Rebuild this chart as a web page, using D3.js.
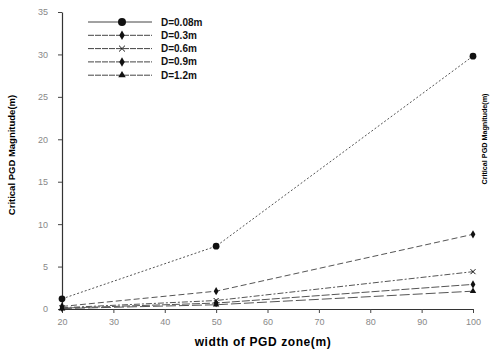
<!DOCTYPE html>
<html>
<head>
<meta charset="utf-8">
<script src="https://cdn.jsdelivr.net/npm/d3@7"></script>
<style>
  body { margin: 0; background: #fff; }
  svg { display: block; font-family: "Liberation Sans", Arial, sans-serif; }
</style>
</head>
<body>
<div id="chart"></div>
<script>
// data
var widths = [20, 50, 100];
var seriesNames = ["D=0.08m", "D=0.3m", "D=0.6m", "D=0.9m", "D=1.2m"];
var d008 = [1.2, 7.4, 29.8];
var d03 = [0.3, 2.1, 8.8];
var d06 = [0.15, 1.0, 4.4];
var d09 = [0.1, 0.7, 2.9];
var d12 = [0.05, 0.5, 2.1];
var xTicks = [20, 30, 40, 50, 60, 70, 80, 90, 100];
var yTicks = [0, 5, 10, 15, 20, 25, 30, 35];

var allValues = [d008, d03, d06, d09, d12];
var markers = [d3.symbolCircle, d3.symbolDiamond, d3.symbolX, d3.symbolDiamond, d3.symbolTriangle];
var markerSize = [36, 20, 18, 20, 18];
var dashes = ["2,2", "6,3", "6,2,2,2", "8,2", "10,3"];

// set the dimensions and margins of the graph
var margin = {top: 12, right: 24, bottom: 45, left: 62},
    width = 497 - margin.left - margin.right,
    height = 354 - margin.top - margin.bottom;

var x = d3.scaleLinear().domain([20, 100]).range([0, width]);
var y = d3.scaleLinear().domain([0, 35]).range([height, 0]);

var svg = d3.select("#chart").append("svg")
    .attr("width", 497)
    .attr("height", 354)
  .append("g")
    .attr("transform", "translate(" + margin.left + "," + margin.top + ")");

// axes
var xAxis = svg.append("g")
    .attr("transform", "translate(0," + height + ")")
    .call(d3.axisBottom(x).tickValues(xTicks).tickSize(4).tickSizeOuter(0).tickPadding(6));
var yAxis = svg.append("g")
    .call(d3.axisLeft(y).tickValues(yTicks).tickSize(4).tickSizeOuter(0).tickPadding(10));

[xAxis, yAxis].forEach(function(a) {
  a.select(".domain").attr("stroke", "#333").attr("stroke-width", 1.2);
  a.selectAll(".tick line").attr("stroke", "#444");
  a.selectAll(".tick text").attr("fill", "#888").attr("font-size", 9);
});

// lines
var line = d3.line()
    .x(function(d, i) { return x(widths[i]); })
    .y(function(d) { return y(d); });

allValues.forEach(function(vals, s) {
  svg.append("path")
      .datum(vals)
      .attr("fill", "none")
      .attr("stroke", "#555")
      .attr("stroke-width", 1)
      .attr("stroke-dasharray", dashes[s])
      .attr("d", line);

  svg.selectAll(".m" + s)
      .data(vals)
    .enter().append("path")
      .attr("class", "m" + s)
      .attr("transform", function(d, i) { return "translate(" + x(widths[i]) + "," + y(d) + ")"; })
      .attr("d", d3.symbol().type(markers[s]).size(markerSize[s]))
      .attr("fill", "#111")
      .attr("stroke", markers[s] === d3.symbolX ? "#111" : "none");
});

// legend
var legend = svg.append("g").attr("transform", "translate(26,10)");
seriesNames.forEach(function(name, s) {
  var g = legend.append("g").attr("transform", "translate(0," + (s * 13.3) + ")");
  g.append("line")
      .attr("x1", 0).attr("x2", 64)
      .attr("stroke", "#444").attr("stroke-width", 1)
      .attr("stroke-dasharray", s === 0 ? null : "6,1");
  g.append("path")
      .attr("transform", "translate(34,0)")
      .attr("d", d3.symbol().type(markers[s]).size(s === 0 ? 50 : markerSize[s] + 6))
      .attr("fill", "#111")
      .attr("stroke", markers[s] === d3.symbolX ? "#111" : "none");
  g.append("text")
      .attr("x", 73).attr("dy", "0.35em")
      .attr("font-size", 10).attr("font-weight", "bold")
      .attr("fill", "#111")
      .text(name);
});

// axis titles
svg.append("text")
    .attr("x", 263 - margin.left).attr("y", height + 37)
    .attr("text-anchor", "middle")
    .attr("font-size", 12).attr("font-weight", "bold")
    .attr("letter-spacing", 0.6)
    .text("width of PGD zone(m)");

svg.append("text")
    .attr("transform", "translate(" + (-47) + "," + (155 - margin.top) + ") rotate(-90)")
    .attr("text-anchor", "middle")
    .attr("font-size", 9.5).attr("font-weight", "bold")
    .text("Critical PGD Magnitude(m)");

svg.append("text")
    .attr("transform", "translate(" + (width + 14) + "," + (139 - margin.top) + ") rotate(-90)")
    .attr("text-anchor", "middle")
    .attr("font-size", 7.2).attr("font-weight", "bold")
    .text("Critical PGD Magnitude(m)");
</script>
</body>
</html>
